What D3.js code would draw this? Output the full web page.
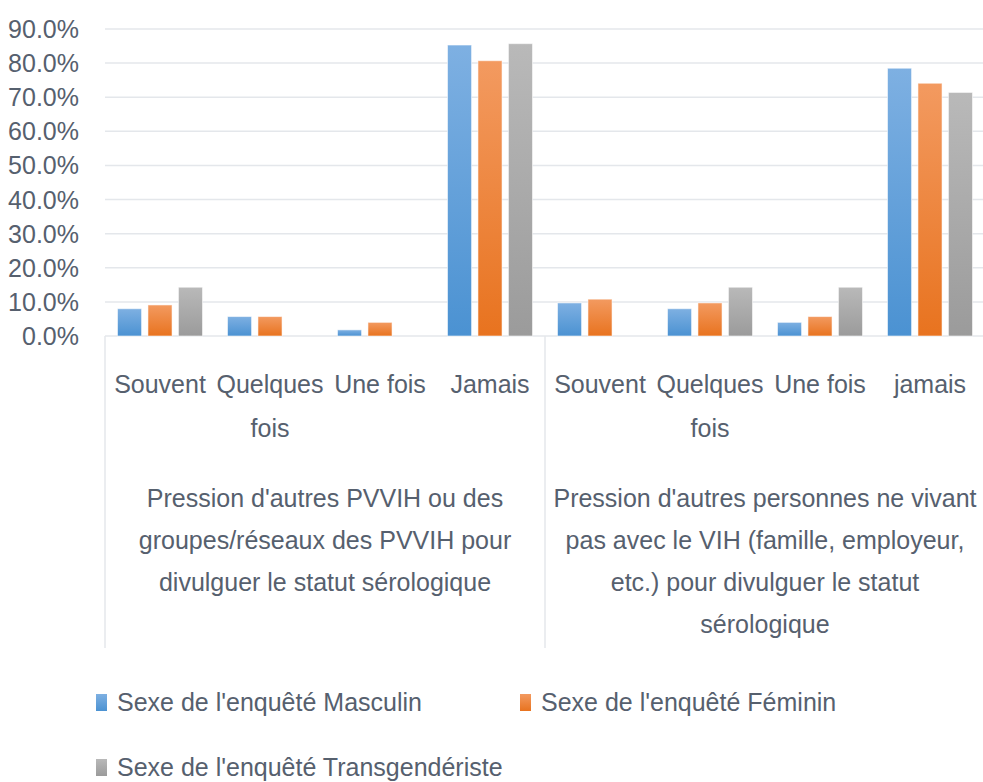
<!DOCTYPE html>
<html><head><meta charset="utf-8">
<script src="https://cdn.jsdelivr.net/npm/d3@7"></script>
<style>
html,body{margin:0;padding:0;background:#fff;}
svg{display:block;font-family:"Liberation Sans",Arial,sans-serif;}
</style></head>
<body><svg id="c" width="983" height="782"></svg>
<script>
const groups = [
  "Pression d'autres PVVIH ou des|groupes/réseaux des PVVIH pour|divulguer le statut sérologique",
  "Pression d'autres personnes ne vivant|pas avec le VIH (famille, employeur,|etc.) pour divulguer le statut|sérologique"
];
const categories = ["Souvent","Quelques fois","Une fois","Jamais","Souvent","Quelques fois","Une fois","jamais"];
const catLabels = [["Souvent"],["Quelques","fois"],["Une fois"],["Jamais"],["Souvent"],["Quelques","fois"],["Une fois"],["jamais"]];
const seriesNames = ["Sexe de l'enquêté Masculin","Sexe de l'enquêté Féminin","Sexe de l'enquêté Transgendériste"];
const masculin = [0.080, 0.057, 0.018, 0.853, 0.097, 0.080, 0.040, 0.785];
const feminin = [0.091, 0.057, 0.040, 0.807, 0.108, 0.097, 0.057, 0.741];
const transgender = [0.143, 0, 0, 0.857, 0, 0.143, 0.143, 0.714];
const yTicks = [0,0.1,0.2,0.3,0.4,0.5,0.6,0.7,0.8,0.9];

(function(){
const seriesValues = [masculin, feminin, transgender];
const colors = [
  {top:"#7eb0e2", bot:"#4b92d2"},
  {top:"#f39a60", bot:"#e8731f"},
  {top:"#b9b9b9", bot:"#9b9b9b"}
];
const textColor = "#56606e";
const fs = 25;

const svg = d3.select("#c");
const L = 105, R = 985, T = 29, B = 336;
const x = d3.scaleBand().domain(d3.range(categories.length)).range([L, R]).padding(0);
const y = d3.scaleLinear().domain([0, 0.9]).range([B, T]);
const xs = d3.scaleBand().domain([0,1,2]).range([12.5, x.bandwidth()-12.5]).paddingInner(0.21);

const defs = svg.append("defs");
colors.forEach((c,i)=>{
  const g = defs.append("linearGradient").attr("id","g"+i).attr("x1",0).attr("y1",0).attr("x2",0).attr("y2",1);
  g.append("stop").attr("offset","0%").attr("stop-color",c.top);
  g.append("stop").attr("offset","100%").attr("stop-color",c.bot);
});

svg.append("g").selectAll("line").data(yTicks).join("line")
  .attr("x1", L).attr("x2", R)
  .attr("y1", d=>y(d)).attr("y2", d=>y(d))
  .attr("stroke", "#e4e7eb").attr("stroke-width", 1.5);

svg.append("g").selectAll("text").data(yTicks).join("text")
  .attr("x", 79).attr("y", d=>y(d)).attr("dy","0.36em")
  .attr("text-anchor","end").attr("fill",textColor).attr("font-size",fs)
  .text(d=>d3.format(".1%")(d));

svg.append("g").selectAll("line").data([0,4,8]).join("line")
  .attr("x1", d=>d===8? R : x(d)).attr("x2", d=>d===8? R : x(d))
  .attr("y1", B).attr("y2", 648)
  .attr("stroke","#e4e7eb").attr("stroke-width",1.5);

seriesValues.forEach((vals, si)=>{
  svg.append("g").selectAll("rect").data(vals).join("rect")
    .attr("x", (d,i)=>x(i)+xs(si))
    .attr("width", xs.bandwidth())
    .attr("y", d=>y(d))
    .attr("height", d=>B - y(d))
    .attr("fill", "url(#g"+si+")")
    .attr("stroke", d=> d>0 ? "rgba(255,255,255,0.55)" : "none")
    .attr("stroke-width", 1);
});

const cl = svg.append("g").attr("fill",textColor).attr("font-size",fs).attr("text-anchor","middle");
catLabels.forEach((lines,i)=>{
  lines.forEach((t,j)=>{
    cl.append("text").attr("x", x(i)+x.bandwidth()/2).attr("y", 393 + j*44).text(t);
  });
});

const gl = svg.append("g").attr("fill",textColor).attr("font-size",fs).attr("text-anchor","middle");
groups.forEach((g,gi)=>{
  const cx = (x(gi*4) + x(gi*4+3) + x.bandwidth())/2;
  g.split("|").forEach((t,j)=>{
    gl.append("text").attr("x", cx).attr("y", 507 + j*42).text(t);
  });
});

const legendPos = [{x:96,y:702},{x:520,y:702},{x:96,y:767}];
const lg = svg.append("g");
seriesNames.forEach((n,i)=>{
  const p = legendPos[i];
  lg.append("rect").attr("x",p.x).attr("y",p.y-8).attr("width",11).attr("height",17)
    .attr("fill","url(#g"+i+")");
  lg.append("text").attr("x",p.x+21).attr("y",p.y).attr("dy","0.36em")
    .attr("fill",textColor).attr("font-size",fs).text(n);
});
})();
</script></body></html>
